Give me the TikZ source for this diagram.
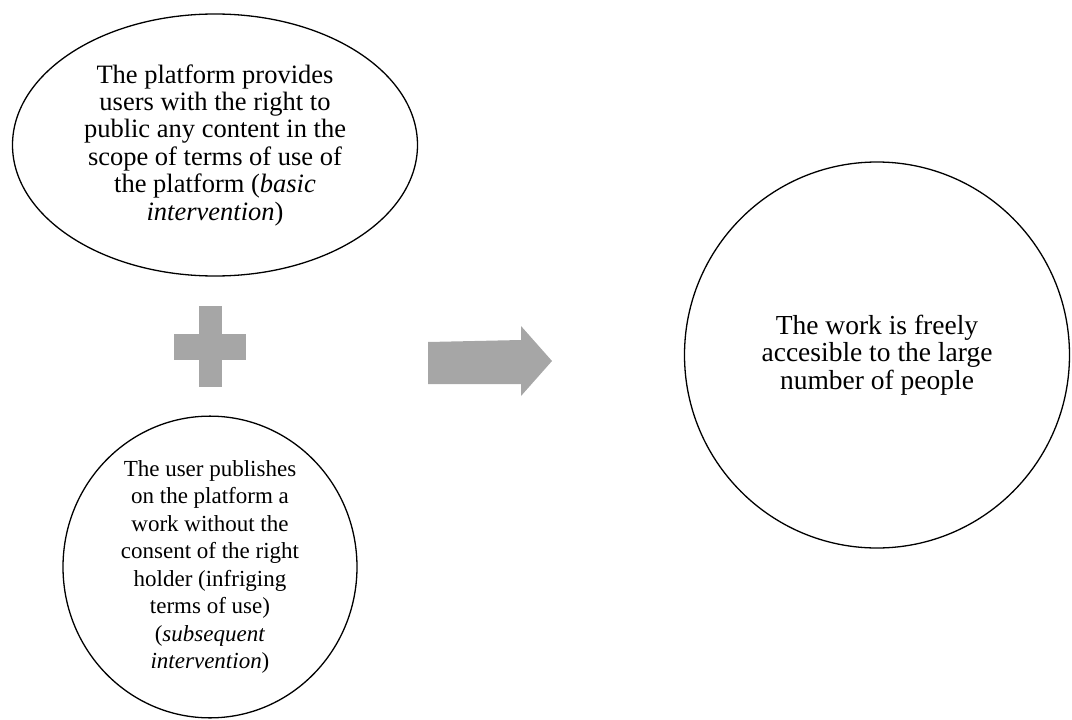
\documentclass[tikz,border=0pt]{standalone}
\usepackage{fontspec}
\setmainfont{Liberation Serif}
\usetikzlibrary{shapes.geometric}
\definecolor{blockgray}{RGB}{166,166,166}

\begin{document}
\begin{tikzpicture}[
  x=1pt,y=-1pt,
  font=\fontsize{26.5}{27.4}\selectfont,
  bubble/.style={draw,line width=1.3pt,ellipse,inner sep=0pt,align=center},
  block/.style={fill=blockgray}
]
\useasboundingbox (0,0) rectangle (1072,720);

% basic intervention
\node[bubble,minimum width=405pt,minimum height=262pt] (basic) at (215,145)
  {The platform provides\\users with the right to\\public any content in the\\scope of terms of use of\\the platform (\textit{basic}\\\textit{intervention})};

% plus
\fill[block] (199,306) rectangle (222,387);
\fill[block] (174,334) rectangle (246,360);

% subsequent intervention
\node[bubble,minimum width=294pt,minimum height=301pt,font=\fontsize{23}{27.5}\selectfont] (subsequent) at (210,567)
  {The user publishes\\on the platform a\\work without the\\consent of the right\\holder (infriging\\terms of use)\\(\textit{subsequent}\\\textit{intervention})};

% arrow
\fill[block] (428,342) -- (521,340) -- (521,326) -- (552,361) -- (521,396)
  -- (521,384) -- (428,384) -- cycle;

% result
\node[bubble,minimum width=385pt,minimum height=386pt,font=\fontsize{27.5}{27.4}\selectfont] (result) at (877,355)
  {The work is freely\\accesible to the large\\number of people};
\end{tikzpicture}
\end{document}
